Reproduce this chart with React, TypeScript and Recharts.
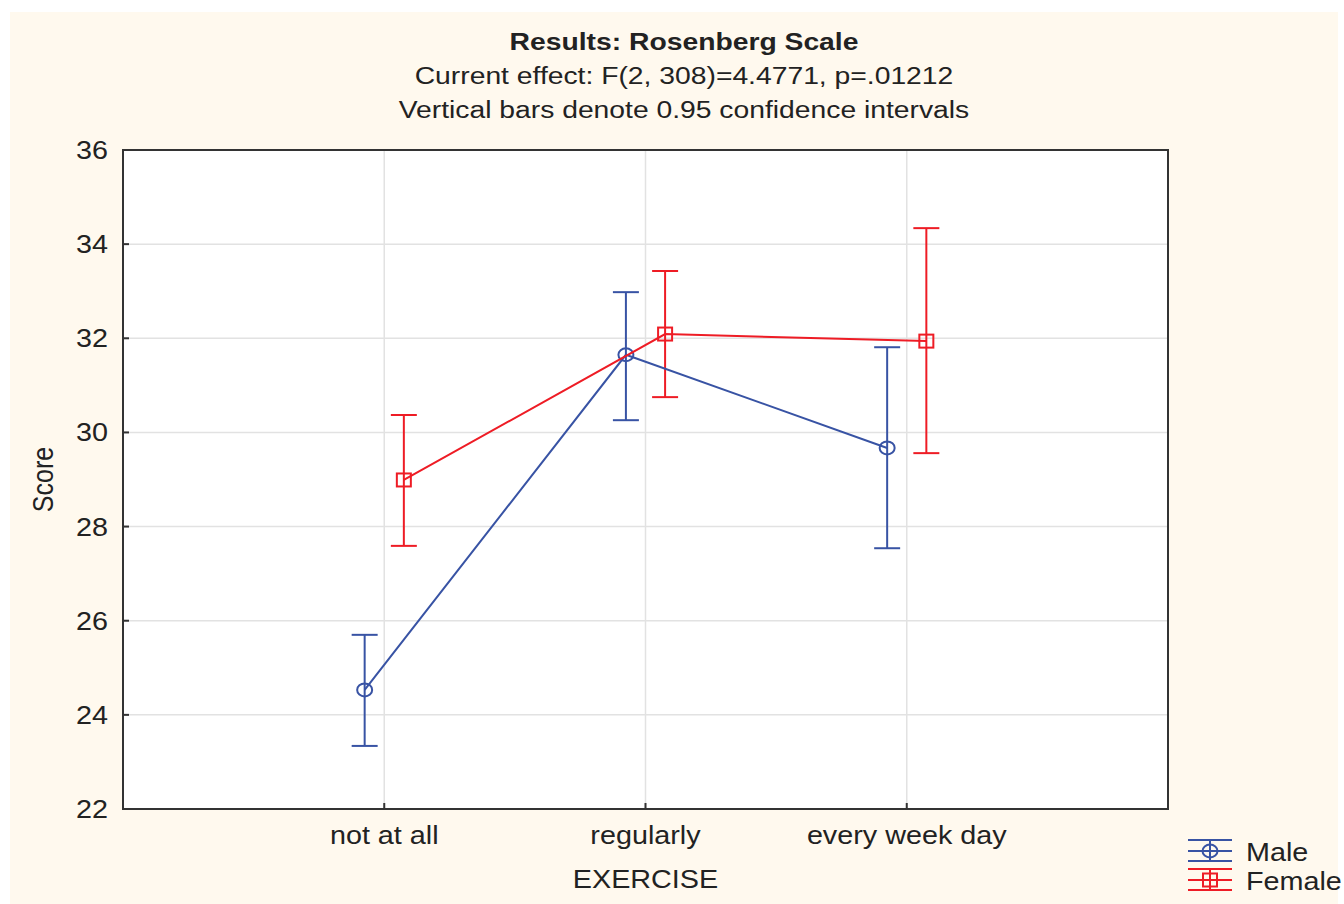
import { CartesianGrid, ErrorBar, Legend, ReferenceArea, Scatter, ScatterChart, XAxis, YAxis } from 'recharts';

const categories = ['not at all', 'regularly', 'every week day'];
const yTicks = [22, 24, 26, 28, 30, 32, 34, 36];

const maleMean = [24.53, 31.65, 29.67];
const maleLow = [23.34, 30.26, 27.54];
const maleHigh = [25.7, 32.98, 31.81];

const femaleMean = [28.99, 32.09, 31.94];
const femaleLow = [27.59, 30.75, 29.56];
const femaleHigh = [30.37, 33.43, 34.34];

const titleLines = [
  'Results: Rosenberg Scale',
  'Current effect: F(2, 308)=4.4771, p=.01212',
  'Vertical bars denote 0.95 confidence intervals',
];

const BLUE = '#3853a4';
const RED = '#ee1c25';
const INK = '#222';
const FONT = '"Liberation Sans", Arial, sans-serif';
const STRETCH = 1.15;
const SHIFT = 0.075;

function buildSeries(mean: number[], low: number[], high: number[], shift: number) {
  return categories.map((name, i) => ({
    name,
    x: i + 1 + shift,
    y: mean[i],
    err: [mean[i] - low[i], high[i] - mean[i]],
  }));
}

const maleData = buildSeries(maleMean, maleLow, maleHigh, -SHIFT);
const femaleData = buildSeries(femaleMean, femaleLow, femaleHigh, SHIFT);

const CircleMark = (props: any) => (
  <ellipse cx={props.cx} cy={props.cy} rx={7.5} ry={6.5} fill="none" stroke={BLUE} strokeWidth={2} />
);

const SquareMark = (props: any) => (
  <rect x={props.cx - 7} y={props.cy - 6.5} width={14} height={13} fill="none" stroke={RED} strokeWidth={2} />
);

const YTick = ({ x, y, payload }: any) => (
  <g transform={`translate(${x},${y}) scale(${STRETCH},1)`}>
    <text x={0} y={0} dy="0.36em" textAnchor="end" fontSize={25} fill={INK} fontFamily={FONT}>
      {payload.value}
    </text>
  </g>
);

const XTick = ({ x, y, payload }: any) => (
  <g transform={`translate(${x},${y}) scale(${STRETCH},1)`}>
    <text x={0} y={0} dy="0.71em" textAnchor="middle" fontSize={25} fill={INK} fontFamily={FONT}>
      {categories[Math.round(payload.value) - 1]}
    </text>
  </g>
);

const legendItems = [
  { name: 'Male', color: BLUE, mark: 'circle' },
  { name: 'Female', color: RED, mark: 'square' },
];

const LegendBox = () => (
  <svg width={160} height={62}>
    {legendItems.map((item, i) => {
      const top = 6 + i * 29;
      const mid = top + 11;
      const bot = top + 21;
      return (
        <g key={item.name} stroke={item.color} strokeWidth={2} fill="none">
          <line x1={2} x2={46} y1={top} y2={top} />
          <line x1={2} x2={46} y1={mid} y2={mid} />
          <line x1={2} x2={46} y1={bot} y2={bot} />
          <line x1={24} x2={24} y1={top} y2={bot} />
          {item.mark === 'circle' ? (
            <ellipse cx={24} cy={mid} rx={7.5} ry={6.5} />
          ) : (
            <rect x={17} y={mid - 6.5} width={14} height={13} />
          )}
          <g transform={`translate(60,${bot}) scale(${STRETCH},1)`}>
            <text x={0} y={0} stroke="none" fill={INK} fontSize={25} fontFamily={FONT}>
              {item.name}
            </text>
          </g>
        </g>
      );
    })}
  </svg>
);

export default function App() {
  return (
    <div style={{ position: 'relative', width: 1344, height: 904, background: '#fff', overflow: 'hidden' }}>
      <style>{'body{margin:0}'}</style>
      <div style={{ position: 'absolute', left: 10, top: 12, width: 1328, height: 892, background: '#fff9ee' }} />
      <svg width={1344} height={140} style={{ position: 'absolute', left: 0, top: 0 }}>
        {titleLines.map((line, i) => (
          <g key={line} transform={`translate(684,${50 + i * 34}) scale(1.23,1)`}>
            <text
              x={0}
              y={0}
              textAnchor="middle"
              fontSize={23}
              fontWeight={i === 0 ? 700 : 400}
              fill={INK}
              fontFamily={FONT}
            >
              {line}
            </text>
          </g>
        ))}
      </svg>
      <div style={{ position: 'absolute', left: 0, top: 0 }}>
        <ScatterChart width={1344} height={904} margin={{ top: 150, right: 176, bottom: 55, left: 63 }}>
          <CartesianGrid fill="#ffffff" stroke="#e2e2e2" strokeWidth={1.5} />
          <ReferenceArea
            x1={0}
            x2={4}
            y1={22}
            y2={36}
            fill="none"
            fillOpacity={0}
            stroke="#333"
            strokeWidth={2}
            ifOverflow="visible"
          />
          <XAxis
            type="number"
            dataKey="x"
            domain={[0, 4]}
            ticks={[1, 2, 3]}
            height={40}
            stroke="#333"
            strokeWidth={2}
            tickSize={-6}
            tickMargin={23}
            tick={<XTick />}
            allowDataOverflow
            label={{
              content: ({ viewBox }: any) => (
                <g transform={`translate(${viewBox.x + viewBox.width / 2},${viewBox.y + 79}) scale(${STRETCH},1)`}>
                  <text x={0} y={0} textAnchor="middle" fontSize={25} fill={INK} fontFamily={FONT}>
                    EXERCISE
                  </text>
                </g>
              ),
            }}
          />
          <YAxis
            type="number"
            dataKey="y"
            domain={[22, 36]}
            ticks={yTicks}
            width={60}
            stroke="#333"
            strokeWidth={2}
            tickSize={-6}
            tickMargin={21}
            tick={<YTick />}
            allowDataOverflow
            label={{
              content: ({ viewBox }: any) => (
                <g transform={`translate(53,${viewBox.y + viewBox.height / 2}) scale(${STRETCH},1) rotate(-90)`}>
                  <text x={0} y={0} textAnchor="middle" fontSize={25} fill={INK} fontFamily={FONT}>
                    Score
                  </text>
                </g>
              ),
            }}
          />
          <Legend
            layout="horizontal"
            verticalAlign="middle"
            align="center"
            content={<LegendBox />}
            wrapperStyle={{ position: 'absolute', left: 1186, top: 834, width: 160, height: 62 }}
          />
          <Scatter
            name="Male"
            data={maleData}
            fill={BLUE}
            line={{ stroke: BLUE, strokeWidth: 2 }}
            lineType="joint"
            shape={<CircleMark />}
            isAnimationActive={false}
          >
            <ErrorBar dataKey="err" direction="y" width={13} stroke={BLUE} strokeWidth={2} isAnimationActive={false} />
          </Scatter>
          <Scatter
            name="Female"
            data={femaleData}
            fill={RED}
            line={{ stroke: RED, strokeWidth: 2 }}
            lineType="joint"
            shape={<SquareMark />}
            isAnimationActive={false}
          >
            <ErrorBar dataKey="err" direction="y" width={13} stroke={RED} strokeWidth={2} isAnimationActive={false} />
          </Scatter>
        </ScatterChart>
      </div>
    </div>
  );
}
